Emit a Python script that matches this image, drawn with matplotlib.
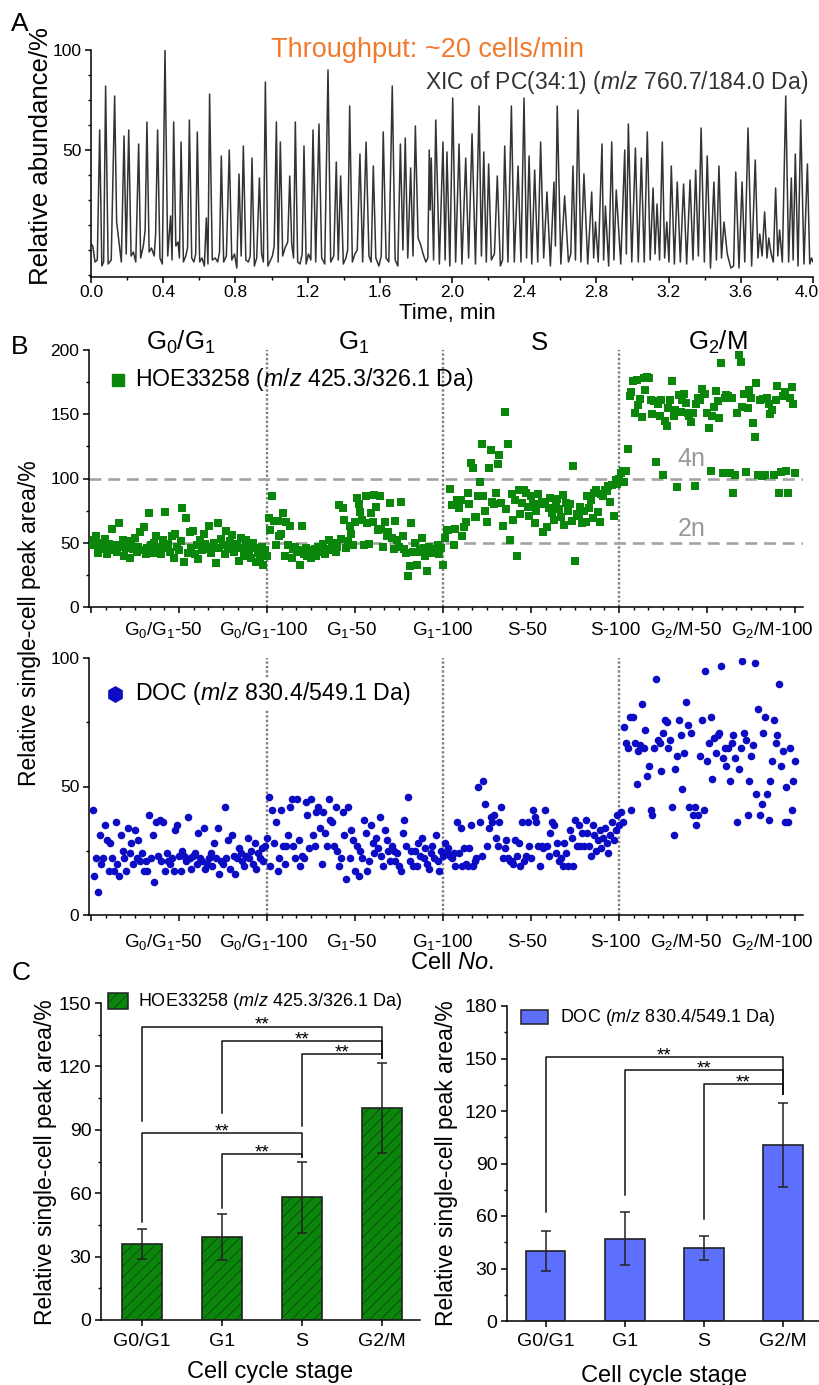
import numpy as np
import matplotlib
matplotlib.use('Agg')
import matplotlib.pyplot as plt
import matplotlib.transforms as mtransforms
from matplotlib.ticker import MultipleLocator
from matplotlib.patches import Rectangle

plt.rcParams['font.family'] = ['Liberation Sans', 'DejaVu Sans']
plt.rcParams['mathtext.fontset'] = 'custom'
plt.rcParams['mathtext.rm'] = 'Liberation Sans'
plt.rcParams['mathtext.it'] = 'Liberation Sans:italic'
plt.rcParams['mathtext.bf'] = 'Liberation Sans:bold'
plt.rcParams['hatch.linewidth'] = 0.6
plt.rcParams['axes.linewidth'] = 1.1

# ---- A: XIC of PC(34:1), (time min, relative abundance %) ----
xic_points = [
    (0.000, 3), (0.010, 2), (0.022, -6), (0.035, -5),
    (0.048, 60), (0.060, -8), (0.070, -6),
    (0.081, 82), (0.095, -7), (0.112, -5),
    (0.131, 77), (0.142, 14), (0.155, 4), (0.168, -6),
    (0.183, 57), (0.195, -2),
    (0.209, 60), (0.222, -3), (0.235, -1), (0.248, -6),
    (0.264, 53), (0.275, -4), (0.290, 2), (0.300, 10),
    (0.310, 64), (0.322, -1), (0.335, 1), (0.350, -3), (0.358, 8),
    (0.369, 60), (0.382, -4), (0.395, -7),
    (0.410, 100), (0.425, -3),
    (0.441, 17), (0.449, -5),
    (0.458, 64), (0.470, 2), (0.482, 4), (0.490, -4),
    (0.499, 54), (0.512, -6), (0.525, -3), (0.535, 1),
    (0.545, 65), (0.558, -4), (0.570, -6), (0.580, -2),
    (0.589, 59), (0.602, -6), (0.615, -4), (0.628, -8),
    (0.639, 16), (0.648, -7),
    (0.657, 78), (0.672, -5), (0.688, -4), (0.702, -6), (0.712, -1),
    (0.722, 47), (0.735, -6), (0.750, -3),
    (0.766, 50), (0.780, -5), (0.795, -2), (0.808, -9),
    (0.820, 38), (0.832, -3),
    (0.844, 52), (0.858, -5), (0.872, -6), (0.882, -3),
    (0.892, 46), (0.905, -8), (0.918, -4),
    (0.933, 36), (0.945, -2), (0.955, -6),
    (0.966, 84), (0.980, -8), (0.995, -5), (1.005, -3), (1.015, 2),
    (1.027, 64), (1.037, -6),
    (1.049, 54), (1.062, -3), (1.075, 1), (1.090, 4),
    (1.101, 37), (1.112, 3), (1.122, -4),
    (1.132, 64), (1.145, -6), (1.158, -7), (1.170, -2),
    (1.180, 52), (1.192, -7), (1.205, -2), (1.218, -5),
    (1.230, 60), (1.245, -6),
    (1.263, 63), (1.278, -4), (1.295, -7),
    (1.313, 90), (1.328, -6), (1.345, -3),
    (1.359, 44), (1.370, -5),
    (1.383, 37), (1.398, -7), (1.412, -4), (1.422, 0),
    (1.433, 72), (1.448, -6), (1.462, -2), (1.475, 0),
    (1.490, 48), (1.505, -6),
    (1.524, 54), (1.540, -3), (1.552, -6),
    (1.564, 42), (1.578, -4), (1.595, -8), (1.608, -3),
    (1.619, 59), (1.635, -4), (1.650, -6),
    (1.669, 82), (1.685, -5), (1.700, -8),
    (1.714, 53), (1.728, 0),
    (1.741, 56), (1.755, -4),
    (1.771, 41), (1.784, -3),
    (1.797, 62), (1.812, 6), (1.825, 3), (1.840, -2), (1.855, -6), (1.866, -4),
    (1.874, 50), (1.879, 20),
    (1.885, 46), (1.898, -5),
    (1.910, 65), (1.930, -7),
    (1.950, 54), (1.962, -5),
    (1.972, 49), (1.988, -8),
    (2.004, 76), (2.020, -6),
    (2.039, 53), (2.055, -7),
    (2.076, 46), (2.092, -4),
    (2.111, 58), (2.130, -7),
    (2.150, 72), (2.163, -3),
    (2.176, 49), (2.190, -6),
    (2.203, 43), (2.218, -5), (2.235, -2),
    (2.251, 37), (2.268, -8), (2.280, -5),
    (2.292, 52), (2.310, -6),
    (2.329, 72), (2.345, -6),
    (2.366, 42), (2.382, -6),
    (2.399, 76), (2.413, -4),
    (2.427, 47), (2.442, -7),
    (2.458, 40), (2.475, -6),
    (2.491, 54), (2.508, -4),
    (2.526, 29), (2.545, -8),
    (2.565, 34), (2.573, 2),
    (2.583, 72), (2.603, -7),
    (2.624, 27), (2.645, -6), (2.658, -2),
    (2.670, 42), (2.684, -5),
    (2.698, 70), (2.714, -6),
    (2.731, 38), (2.752, -7),
    (2.774, 29), (2.785, -4), (2.795, 14), (2.810, -6),
    (2.831, 53), (2.840, -5),
    (2.850, 22), (2.868, -8),
    (2.885, 54), (2.897, -5),
    (2.910, 30), (2.935, -7),
    (2.957, 50), (2.966, -2),
    (2.977, 63), (2.996, -6),
    (3.016, 51), (3.032, -6),
    (3.049, 46), (3.065, -6),
    (3.082, 59), (3.098, -5),
    (3.114, 31), (3.125, -2),
    (3.136, 23), (3.150, -5),
    (3.165, 54), (3.178, -4),
    (3.190, 14), (3.202, -6),
    (3.215, 42), (3.232, -7),
    (3.248, 34), (3.265, -6),
    (3.283, 33), (3.300, -7),
    (3.319, 35), (3.335, -5),
    (3.350, 40), (3.365, -3),
    (3.380, 61), (3.398, -6),
    (3.414, 47), (3.432, -9),
    (3.451, 34), (3.465, -5),
    (3.479, 42), (3.493, -4),
    (3.507, 14), (3.525, -2), (3.545, -9), (3.560, -8),
    (3.572, 39), (3.590, -9),
    (3.607, 34), (3.622, -6),
    (3.640, 61), (3.660, -8),
    (3.680, 45), (3.695, -4), (3.705, 8), (3.718, -3),
    (3.732, 19), (3.745, -4), (3.755, 6), (3.768, -2), (3.780, -6),
    (3.793, 31), (3.805, -3), (3.815, 10), (3.830, -6),
    (3.849, 77), (3.865, -6),
    (3.880, 36), (3.890, -5),
    (3.902, 48), (3.917, -8),
    (3.932, 65), (3.950, -7),
    (3.969, 43), (3.982, -7), (3.992, -4), (4.000, -6),
]
xic_t = [p[0] for p in xic_points]
xic_v = [p[1] for p in xic_points]

# ---- B: single-cell peak areas, 100 cells per stage ----
hoe_g0g1 = [48, 52, 55, 42, 47, 50, 45, 53, 41, 49, 46, 61, 44, 48, 43, 65, 47, 52, 40, 46,
            49, 38, 51, 45, 54, 43, 47, 58, 44, 62, 41, 46, 73, 48, 42, 50, 55, 45, 47, 41,
            52, 74, 46, 49, 43, 55, 38, 57, 47, 44, 51, 77, 35, 69, 42, 58, 46, 59, 41, 48,
            37, 52, 44, 57, 49, 45, 63, 42, 47, 50, 34, 65, 46, 53, 48, 41, 59, 45, 51, 56,
            43, 47, 49, 36, 54, 46, 40, 52, 48, 44, 38, 50, 46, 35, 42, 39, 47, 33, 44, 40]
hoe_g1 = [69, 60, 86, 67, 48, 67, 55, 57, 73, 40, 66, 48, 63, 38, 45,
          47, 43, 44, 33, 63, 41, 46, 40, 44, 38, 42, 45, 40, 47, 43, 44, 49, 41, 45, 52,
          44, 48, 50, 43, 47,
          79, 53, 77, 68, 46, 51, 63, 57, 48, 66, 85, 80, 74, 68, 48, 86, 65, 49, 73, 66,
          87, 78, 60, 86, 61, 47, 66, 55, 58, 81, 54, 45, 67, 52, 47,
          82, 55, 45, 42, 24, 32, 65, 43, 50, 33, 43, 45, 54, 46, 40, 28, 47, 44, 42, 45,
          43, 48, 41, 46, 33]
hoe_s = [54, 60, 60, 92, 79, 48, 61, 83, 77, 83, 55, 62, 66, 89, 80, 112, 108, 70, 70, 86,
         97, 127, 86, 75, 66, 108, 122, 82, 80, 89, 111, 118, 81, 63, 152, 76, 127, 52, 88, 68,
         83, 40, 91, 72, 81, 91, 89, 78, 71, 86, 80, 65, 75, 88, 80, 82, 58, 80, 62, 77,
         85, 73, 68, 79, 84, 76, 70, 87, 64, 81, 75, 80, 67, 110, 36, 72, 71, 78, 65, 75,
         66, 86, 77, 83, 69, 89, 91, 74, 66, 88, 86, 91, 90, 94, 82, 95, 71, 99, 96, 100]
hoe_g2m = [104, 106, 97, 106, 123, 164, 167, 176, 151, 177, 157, 162, 148,
           178, 169, 179, 178, 161, 150, 160, 113, 158, 149,
           161, 103, 145, 141, 155, 161, 176, 149, 153, 93, 165, 152,
           161, 166, 159, 151, 149, 144, 151, 94, 158, 163,
           161, 170, 166, 166, 151, 139, 106, 149, 156, 168, 160, 147,
           190, 104, 163, 165, 164, 104, 163, 89, 103, 151,
           196, 191, 156, 166, 105, 155, 169, 163, 143, 132, 174, 103,
           161, 102, 162, 103, 163, 158, 150, 153, 103, 161, 172, 89,
           105, 164, 167, 106, 89, 163, 171, 158, 104]

doc_g0g1 = [41, 15, 22, 9, 31, 20, 22, 35, 29, 17, 28, 22, 17, 36, 20, 15, 31, 25, 22, 17,
            34, 24, 28, 20, 33, 22, 29, 21, 24, 17, 21, 17, 39, 22, 31, 13, 36, 23, 37, 21,
            36, 17, 24, 21, 20, 22, 17, 33, 35, 23, 17, 25, 23, 21, 38, 22, 18, 23, 24, 20,
            32, 22, 21, 34, 18, 20, 22, 24, 19, 28, 22, 34, 16, 21, 20, 42, 22, 29, 18, 31,
            23, 16, 22, 26, 24, 21, 19, 23, 30, 22, 25, 20, 28, 18, 24, 22, 26, 21, 27, 30]
doc_g1 = [46, 19, 41, 28, 36, 17, 22, 41, 27, 20, 27, 31, 42, 45, 27, 22, 45, 29, 19, 23,
          22, 44, 39, 26, 45, 31, 27, 40, 42, 34, 20, 40, 32, 27, 45, 37, 36, 27, 42, 25,
          19, 22, 40, 31, 14, 42, 22, 33, 29, 17, 27, 15, 25, 22, 37, 32, 17, 21, 35, 28,
          24, 30, 26, 38, 23, 19, 33, 29, 25, 21, 27, 25, 21, 24, 19, 17, 32, 37, 27, 46,
          21, 25, 19, 25, 19, 28, 23, 30, 22, 26, 20, 18, 24, 27, 22, 31, 21, 17, 25, 23]
doc_s = [28, 24, 26, 23, 22, 24, 19, 36, 24, 34, 19, 26, 20, 19, 26, 35, 19, 21, 22, 50,
         36, 23, 52, 43, 27, 34, 38, 36, 39, 30, 27, 36, 42, 22, 26, 29, 22, 21, 21, 20,
         29, 23, 28, 19, 36, 21, 23, 36, 27, 22, 41, 38, 36, 27, 19, 27, 26, 41, 27, 23,
         32, 36, 35, 24, 28, 21, 22, 19, 28, 24, 19, 33, 30, 19, 37, 27, 35, 27, 32, 27,
         37, 32, 27, 23, 35, 31, 25, 29, 33, 26, 30, 34, 28, 24, 31, 36, 29, 33, 39, 35]
doc_g2m = [40, 36, 73, 67, 65, 77, 41, 77, 67, 51, 64, 66,
           82, 65, 72, 54, 58, 41, 39, 65, 92, 68,
           67, 56, 71, 76, 75, 65, 68, 42, 31, 57, 62,
           76, 70, 49, 63, 83, 74, 42, 71, 39, 42,
           35, 39, 62, 76, 41, 95, 60, 67, 77, 53, 69, 63,
           70, 71, 97, 61, 65, 58, 65, 52, 67, 70,
           61, 36, 57, 65, 99, 71, 68, 39, 52, 62, 66,
           98, 47, 80, 39, 43, 71, 77, 47, 37, 52,
           60, 76, 67, 70, 90, 58, 64, 36, 50, 36, 65, 41, 52, 60]

cell_ticks = [50, 100, 150, 200, 250, 300, 350, 400]
cell_labels = [r'G$_0$/G$_1$-50', r'G$_0$/G$_1$-100', r'G$_1$-50', r'G$_1$-100',
               'S-50', 'S-100', r'G$_2$/M-50', r'G$_2$/M-100']
phase_names = [r'G$_0$/G$_1$', r'G$_1$', 'S', r'G$_2$/M']

# ---- C: mean +/- SD per stage ----
bar_labels = ['G0/G1', 'G1', 'S', 'G2/M']
hoe_mean = [36, 39.3, 58, 100.3]
hoe_sd = [7, 10.7, 16.6, 21.5]
doc_mean = [39.8, 47.1, 41.7, 100.8]
doc_sd = [11.4, 15.2, 6.8, 24.0]
# significance brackets: (from, to, bar height, left leg end, right leg end)
hoe_sig = [(0, 3, 138.8, 94, 124), (1, 3, 131.8, 98, 124), (2, 3, 125.7, 92, 124),
           (0, 2, 88.3, 46.5, 77), (1, 2, 78.4, 52.8, 77)]
doc_sig = [(0, 3, 150.9, 62.3, 130), (1, 3, 143.3, 72.2, 130), (2, 3, 135.3, 58.5, 130)]

GREEN = '#0a870a'
BLUE = '#0c0cc4'
BAR_BLUE = '#5d6ffd'

W, H = 820, 1385
fig = plt.figure(figsize=(W / 100, H / 100), dpi=100)


def rect(l, t, r, b):
    return [l / W, 1 - b / H, (r - l) / W, (b - t) / H]


def fx(x):
    return x / W


def fy(y):
    return 1 - y / H


def style(ax, size=13):
    for s in ('top', 'right'):
        ax.spines[s].set_visible(False)
    ax.tick_params(which='major', direction='out', width=1.1, length=4, labelsize=size, pad=3)
    ax.tick_params(which='minor', direction='out', width=1.0, length=2.5)


# ===== Panel A =====
axA = fig.add_axes(rect(91, 50, 813, 277))
axA.plot(xic_t, xic_v, color='#333333', lw=1.1)
axA.set_xlim(0, 4.0)
axA.set_ylim(-13.5, 100)
axA.set_xticks(np.arange(0, 4.01, 0.4))
axA.set_xticklabels([f'{v:.1f}' for v in np.arange(0, 4.01, 0.4)])
axA.xaxis.set_minor_locator(MultipleLocator(0.2))
axA.set_yticks([50, 100])
axA.yaxis.set_minor_locator(MultipleLocator(12.5))
style(axA, 12.5)
axA.tick_params(axis='x', pad=2)
last = axA.get_xticklabels()[-1]
last.set_transform(last.get_transform() +
                   mtransforms.ScaledTranslation(-0.06, 0, fig.dpi_scale_trans))

fig.text(fx(20), fy(24), 'A', fontsize=19, ha='center', va='center')
fig.text(fx(428), fy(50), 'Throughput: ~20 cells/min', color='#f07a2e', fontsize=19.5,
         ha='center', va='center')
fig.text(fx(808), fy(82), r'XIC of PC(34:1) ($m/z$ 760.7/184.0 Da)', color='#333333',
         fontsize=16.5, ha='right', va='center')
fig.text(fx(447), fy(313), 'Time, min', fontsize=16, ha='center', va='center')
fig.text(fx(41), fy(156), 'Relative abundance/%', fontsize=18.5, rotation=90,
         ha='center', va='center')

# ===== Panel B =====
label_pos = [41, 98, 148, 200, 248, 298, 338, 387]


def cell_axis(ax, ymax, ystep, label_y):
    ax.set_xlim(-1.1, 404.5)
    ax.set_ylim(0, ymax)
    ax.set_xticks([0] + cell_ticks)
    ax.set_xticklabels([])
    ax.xaxis.set_minor_locator(MultipleLocator(50 / 6))
    ax.yaxis.set_major_locator(MultipleLocator(ystep))
    ax.yaxis.set_minor_locator(MultipleLocator(ystep / 2))
    style(ax, 12.5)
    trans = mtransforms.blended_transform_factory(ax.transData, ax.transAxes)
    for xp, lab in zip(label_pos, cell_labels):
        ax.text(xp, label_y, lab, transform=trans, ha='center', va='baseline', fontsize=13.5)
    for xv in (100, 200, 300):
        ax.axvline(xv, color='#7f7f7f', lw=1.7, linestyle=(0, (1, 0.9)), zorder=1)


axB1 = fig.add_axes(rect(89, 350, 803, 607))
cell_axis(axB1, 200, 50, -0.109)
for yv in (50, 100):
    axB1.axhline(yv, color='#a3a3a3', lw=1.9, linestyle=(0, (4.5, 2.6)), zorder=1)
for i, vals in enumerate([hoe_g0g1, hoe_g1, hoe_s, hoe_g2m]):
    xs = np.linspace(i * 100 + 1, i * 100 + 100, len(vals))
    axB1.scatter(xs, vals, marker='s', s=26, color=GREEN, linewidths=0, zorder=3)
axB1.text(341, 115, '4n', color='#999999', fontsize=18, ha='center', va='center')
axB1.text(341, 60.5, '2n', color='#999999', fontsize=18, ha='center', va='center')
transB1 = mtransforms.blended_transform_factory(axB1.transData, axB1.transAxes)
for xp, name in zip([51, 149, 255, 356], phase_names):
    axB1.text(xp, 1.0, name, transform=transB1, ha='center', va='baseline', fontsize=18.5)
axB1.plot([0.04], [0.885], marker='s', markersize=9, color=GREEN, transform=axB1.transAxes,
          clip_on=False)
axB1.text(0.064, 0.885, r'HOE33258 ($m/z$ 425.3/326.1 Da)', transform=axB1.transAxes,
          fontsize=16.7, ha='left', va='center')

axB2 = fig.add_axes(rect(89, 658, 803, 915))
cell_axis(axB2, 100, 50, -0.125)
for i, vals in enumerate([doc_g0g1, doc_g1, doc_s, doc_g2m]):
    xs = np.linspace(i * 100 + 1, i * 100 + 100, len(vals))
    axB2.scatter(xs, vals, marker='o', s=30, color=BLUE, linewidths=0, zorder=3)
axB2.plot([0.037], [0.86], marker='h', markersize=11, color=BLUE, transform=axB2.transAxes,
          clip_on=False, zorder=5)
axB2.text(0.064, 0.86, r'DOC ($m/z$ 830.4/549.1 Da)', transform=axB2.transAxes,
          fontsize=16.7, ha='left', va='center', zorder=5,
          bbox=dict(facecolor='white', edgecolor='none', pad=1))

fig.text(fx(20), fy(347), 'B', fontsize=19, ha='center', va='center')
fig.text(fx(30), fy(623), 'Relative single-cell peak area/%', fontsize=16.5, rotation=90,
         ha='center', va='center')
fig.text(fx(452), fy(963), r'Cell $\it{No.}$', fontsize=17, ha='center', va='center')

# ===== Panel C =====
xpos = np.arange(len(bar_labels))


def bar_panel(ax, means, sds, color, hatch, ymax, sig):
    if hatch:
        ax.bar(xpos, means, width=0.5, color=color, edgecolor='#173f17', linewidth=0,
               hatch=hatch, zorder=2)
    else:
        ax.bar(xpos, means, width=0.5, color=color, linewidth=0, zorder=2)
    ax.bar(xpos, means, width=0.5, fill=False, edgecolor='#222222', linewidth=1.2, zorder=3)
    ax.errorbar(xpos, means, yerr=sds, fmt='none', ecolor='#222222', elinewidth=1.1,
                capsize=3.5, capthick=1.1, zorder=4)
    for a, b, yb, y1, y2 in sig:
        ax.plot([a, a, b, b], [y1, yb, yb, y2], color='#111111', lw=1.1, zorder=4)
        ax.text((a + b) / 2, yb + 0.6, '**', ha='center', va='center', fontsize=13.5)
    ax.set_ylim(0, ymax)
    ax.yaxis.set_major_locator(MultipleLocator(30))
    ax.yaxis.set_minor_locator(MultipleLocator(15))
    ax.set_xticks(xpos)
    ax.set_xticklabels(bar_labels)
    style(ax, 14)
    ax.tick_params(axis='x', pad=5)


axC1 = fig.add_axes(rect(101, 1003, 420, 1320))
bar_panel(axC1, hoe_mean, hoe_sd, GREEN, '///', 150, hoe_sig)
axC1.set_xlim(-0.51, 3.475)
axC1.add_patch(Rectangle((0.022, 0.981), 0.063, 0.05, transform=axC1.transAxes,
                         facecolor=GREEN, edgecolor='#173f17', hatch='///', lw=0, clip_on=False))
axC1.add_patch(Rectangle((0.022, 0.981), 0.063, 0.05, transform=axC1.transAxes,
                         fill=False, edgecolor='#222222', lw=1.1, clip_on=False))
axC1.text(0.116, 1.004, r'HOE33258 ($m/z$ 425.3/326.1 Da)', transform=axC1.transAxes,
          fontsize=13, ha='left', va='center')

axC2 = fig.add_axes(rect(507, 1006, 820, 1321))
bar_panel(axC2, doc_mean, doc_sd, BAR_BLUE, None, 180, doc_sig)
axC2.set_xlim(-0.49, 3.47)
axC2.add_patch(Rectangle((0.045, 0.943), 0.086, 0.044, transform=axC2.transAxes,
                         facecolor=BAR_BLUE, edgecolor='#222222', lw=1.1, clip_on=False))
axC2.text(0.169, 0.965, r'DOC ($m/z$ 830.4/549.1 Da)', transform=axC2.transAxes,
          fontsize=13, ha='left', va='center')

fig.text(fx(21), fy(973), 'C', fontsize=19, ha='center', va='center')
fig.text(fx(46), fy(1162), 'Relative single-cell peak area/%', fontsize=16.5, rotation=90,
         ha='center', va='center')
fig.text(fx(447), fy(1163), 'Relative single-cell peak area/%', fontsize=16.5, rotation=90,
         ha='center', va='center')
fig.text(fx(270), fy(1361), 'Cell cycle stage', fontsize=17, ha='center', va='top')
fig.text(fx(664), fy(1365), 'Cell cycle stage', fontsize=17, ha='center', va='top')

fig.savefig('out.png', dpi=100)
